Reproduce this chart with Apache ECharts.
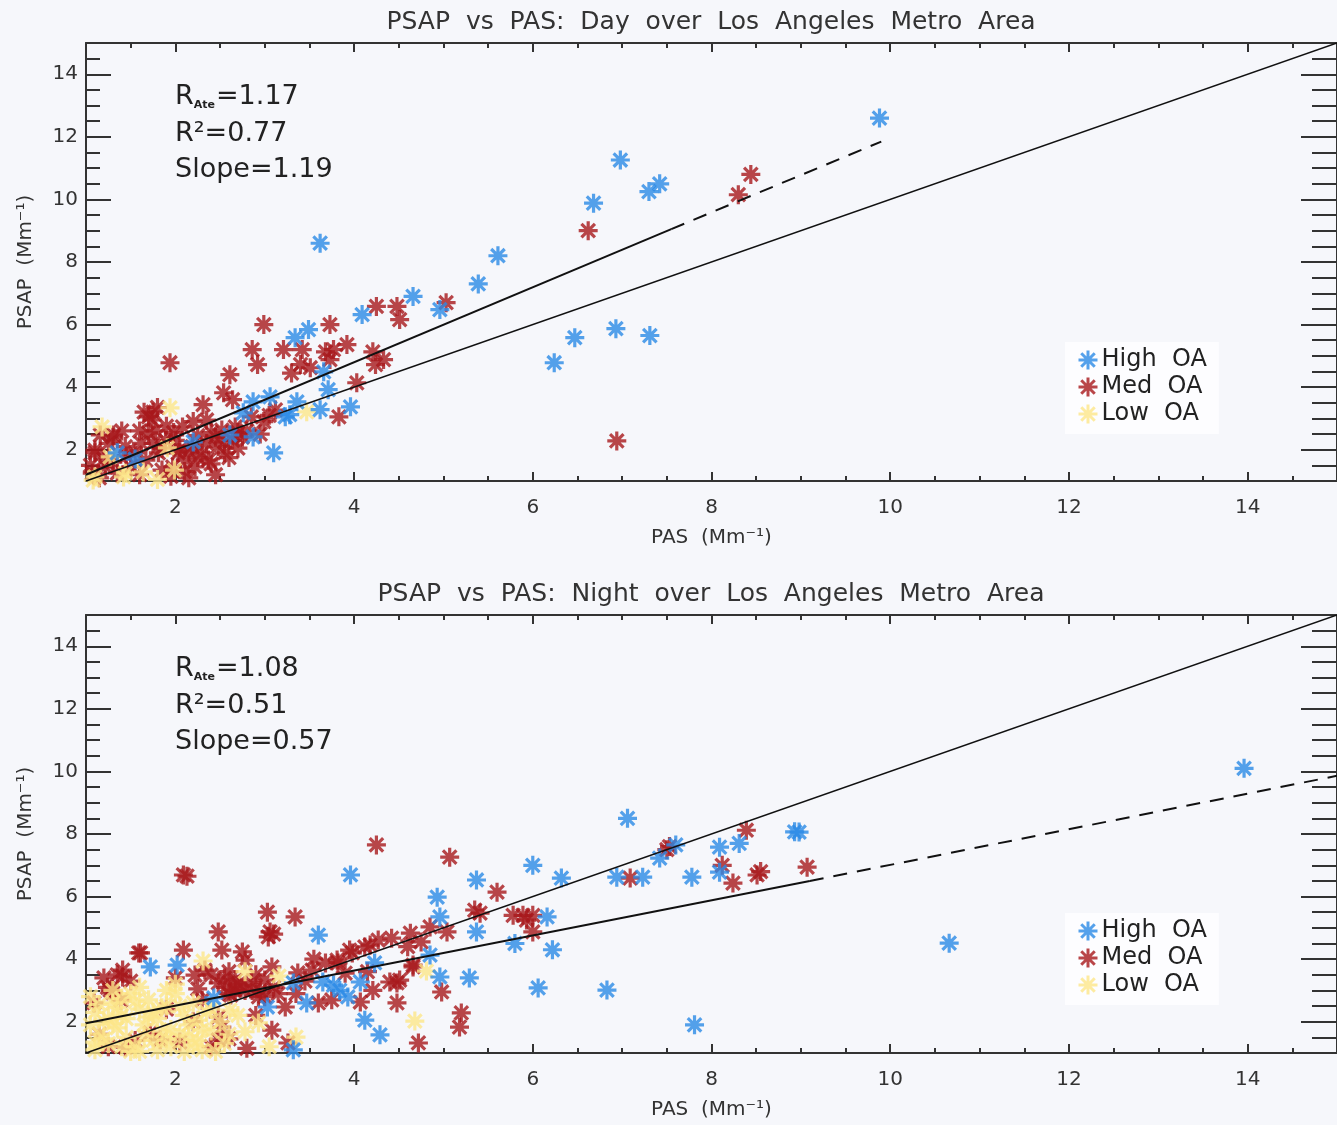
<!DOCTYPE html>
<html>
<head>
<meta charset="utf-8">
<title>PSAP vs PAS</title>
<script src="https://cdn.jsdelivr.net/npm/echarts@6.0.0/dist/echarts.min.js"></script>
<style>
  html, body { margin: 0; padding: 0; background: #f6f7fb; }
  #chart { width: 1337px; height: 1125px; }
</style>
</head>
<body>
<div id="chart"></div>
<script>
// tick labels
var majorTicks = [2, 4, 6, 8, 10, 12, 14];

// reference 1:1 line and fitted lines (end points)
var oneToOne = [[1, 1], [15, 15]];
var dayFitSolid = [[1, 1.2], [7.55, 9.05]];
var dayFitDashed = [[7.55, 9.05], [9.9, 11.85]];
var nightFitSolid = [[1, 1.95], [9.1, 6.5]];
var nightFitDashed = [[9.1, 6.5], [15, 9.86]];

// ---- Day: [PAS, PSAP]
var dayHigh = [[9.88,12.6],[6.98,11.26],[6.68,9.88],[7.3,10.25],[7.42,10.5],[3.62,8.6],[5.61,8.2],[5.39,7.3],
  [4.66,6.9],[4.09,6.32],[4.96,6.48],[3.49,5.84],[3.34,5.58],[6.24,4.78],[6.47,5.58],[6.93,5.87],[7.31,5.65],
  [3.66,4.49],[3.71,3.92],[3.96,3.37],[3.36,3.53],[3.06,3.69],[2.87,3.53],[2.76,3.18],[2.87,2.41],[3.1,1.9],
  [3.28,3.12],[3.62,3.28],[3.23,3.05],[2.61,2.47],[1.35,1.9],[2.2,2.25],[1.55,1.7]];

var dayMed = [[8.44,10.8],[8.3,10.15],[6.62,9.0],[6.94,2.28],[5.03,6.7],[4.51,6.16],[4.48,6.58],[4.25,6.58],
  [2.99,6.0],[3.73,6.0],[1.94,4.78],[2.86,5.2],[2.92,4.72],[2.61,4.4],[2.54,3.82],[2.64,3.6],[2.31,3.44],
  [3.21,5.2],[3.42,5.2],[3.4,4.72],[3.51,4.62],[3.68,5.13],[3.77,5.2],[3.92,5.36],[3.73,4.88],[4.21,5.13],
  [4.33,4.88],[4.24,4.72],[4.03,4.14],[3.83,3.05],[2.99,2.9],[3.12,3.27],[1.74,2.95],[1.7,2.54],[1.3,2.4],
  [1.1,1.9],[1.55,1.9],[2.08,2.73],[2.19,2.1],[2.37,1.67],[2.22,1.45],[2.03,1.9],[2.52,2.63],[2.67,2.73],
  [2.75,2.4],[2.45,2.4],[1.89,2.3],[1.44,2.1],[1.22,1.45],[1.07,1.25],[1.67,1.67],[1.81,1.9],[1.97,1.45],
  [2.11,1.67],[2.3,1.9],[2.48,2.1],[2.64,2.3],[1.7,3.05],[1.16,2.47],[1.31,2.47],[1.1,1.99],[3.3,4.45],
  [1.62,2.2],[1.78,2.6],[1.85,2.05],[2.0,2.3],[2.15,1.95],[2.35,2.2],[1.5,1.45],[1.35,1.25],[1.2,1.7],
  [2.25,1.75],[2.55,1.9],[1.95,1.15],[1.6,1.2],[2.85,3.05],[2.4,2.55],[2.7,2.55],[1.05,1.5],[1.75,3.2],
  [1.15,1.1],[1.3,1.6],[1.45,1.8],[1.6,2.6],[1.75,2.2],[1.9,2.75],[2.05,2.0],[2.1,1.3],[2.25,2.45],
  [2.4,1.55],[2.55,2.25],[2.6,1.75],[2.7,2.05],[2.8,2.6],[1.85,1.35],[1.65,3.2],[1.8,3.35],[2.2,2.9],
  [2.35,2.95],[1.4,2.6],[1.25,2.2],[2.95,2.5],[3.05,3.1],[2.15,1.1],[2.45,1.2],[1.98,2.55]];

var dayLow = [[1.18,2.73],[1.94,3.34],[1.27,1.77],[1.91,2.06],[1.44,1.25],[1.64,1.29],[1.99,1.35],
  [3.47,3.21],[1.1,1.13],[1.42,1.13],[1.08,1.03],[1.8,1.05]];

// ---- Night: [PAS, PSAP]
var nightHigh = [[13.96,10.1],[10.66,4.51],[12.08,3.65],[8.98,8.06],[7.06,8.5],[8.93,8.07],[8.31,7.7],
  [8.09,7.58],[7.6,7.65],[7.42,7.23],[8.09,6.78],[7.78,6.62],[7.23,6.62],[6.94,6.62],[6.32,6.59],[6.0,7.0],
  [5.37,6.53],[4.93,5.98],[4.96,5.35],[6.16,5.35],[5.37,4.87],[5.8,4.5],[6.22,4.3],[4.85,4.13],[6.06,3.08],
  [6.83,3.01],[7.81,1.9],[5.29,3.4],[4.96,3.43],[3.96,6.69],[3.6,4.77],[4.23,3.88],[3.84,3.0],[3.93,2.79],
  [3.77,3.17],[4.12,2.05],[4.29,1.58],[3.32,1.1],[3.65,3.27],[3.47,2.6],[2.43,2.76],[1.72,3.75],[2.02,3.81],
  [3.32,3.24],[4.07,3.27],[3.03,2.47]];

var nightMed = [[9.07,6.94],[8.39,8.12],[7.53,7.6],[7.5,7.5],[8.12,7.0],[8.51,6.69],[8.55,6.8],[8.24,6.43],
  [7.09,6.59],[5.07,7.26],[5.6,6.14],[5.35,5.57],[5.41,5.47],[5.78,5.4],[5.89,5.4],[6.0,5.4],[5.93,5.25],
  [6.0,4.87],[5.04,4.87],[4.63,4.83],[4.85,5.03],[4.98,2.95],[5.2,2.28],[5.18,1.83],[4.72,1.32],[4.66,3.81],
  [4.51,3.33],[4.42,4.67],[4.18,4.45],[3.95,4.29],[3.81,3.97],[4.66,3.75],[4.4,3.27],[4.48,3.24],[4.21,3.0],
  [4.07,2.63],[4.48,2.6],[4.25,7.65],[2.09,6.69],[2.13,6.65],[3.03,5.5],[3.34,5.35],[3.04,4.71],[3.06,4.87],
  [3.1,4.8],[2.48,4.87],[1.59,4.2],[2.09,4.29],[2.52,4.29],[2.75,4.23],[1.41,3.65],[1.41,3.43],[1.24,3.1],
  [1.3,2.92],[2.0,3.4],[2.22,3.49],[2.33,3.65],[2.67,3.33],[2.78,3.97],[2.48,3.24],[2.56,3.1],[2.67,3.0],
  [2.78,3.0],[2.86,3.0],[2.93,2.79],[3.0,3.33],[3.08,3.75],[2.3,2.69],[3.37,3.56],[3.53,3.65],[3.68,3.88],
  [3.82,3.88],[3.98,4.2],[4.12,4.39],[4.27,4.61],[3.6,2.6],[3.75,2.7],[3.23,2.47],[3.08,1.73],[3.26,1.32],
  [2.48,2.15],[2.52,1.83],[2.48,1.42],[1.27,3.01],[1.61,4.2],[1.09,2.6],[1.72,1.64],[1.83,1.42],[1.44,1.19],
  [1.39,2.69],[2.7,3.2],[2.6,2.9],[2.9,3.5],[3.0,2.8],[2.4,1.2],[3.9,3.55],[4.15,3.6],[3.55,4.0],[4.6,4.4],
  [4.75,4.55],[2.2,2.0],[1.9,2.4],[1.15,1.6],[2.8,1.15],[2.55,3.4],[2.62,2.85],[2.72,3.15],[2.85,3.25],
  [2.95,3.0],[3.1,3.1],[3.15,2.9],[2.6,3.6],[2.4,3.5],[2.25,3.05],[1.5,3.3],[1.35,3.5],[1.2,3.4],[1.55,1.4],
  [1.25,1.2],[2.05,1.35],[2.6,1.45],[2.9,2.2],[3.35,2.9],[3.45,3.3]];

var nightLow = [[4.81,3.62],[4.68,2.02],[2.31,3.94],[2.78,3.6],[3.16,3.46],[3.35,1.51],[2.78,1.68],[2.93,1.96],
  [2.61,2.37],[1.05,2.8],[1.1,2.3],[1.15,1.6],[1.2,2.0],[1.25,1.3],[1.3,2.6],[1.35,1.8],[1.4,2.2],[1.45,1.5],
  [1.5,2.9],[1.55,1.2],[1.6,2.4],[1.65,1.9],[1.7,2.7],[1.75,1.4],[1.8,2.1],[1.85,1.7],[1.9,2.5],[1.95,1.2],
  [2.0,2.9],[2.05,1.6],[2.1,2.2],[2.15,1.9],[2.2,2.6],[2.25,1.4],[2.3,1.1],[2.35,2.3],[2.4,1.7],[2.5,2.0],
  [2.55,1.3],[1.1,1.1],[1.3,3.0],[1.6,3.1],[2.0,3.2],[1.8,1.1],[1.05,1.9],[1.2,1.45],[1.4,2.75],[1.5,1.05],
  [1.75,2.3],[2.1,1.05],[1.9,3.0],[3.05,1.2],[1.15,2.55],[1.25,2.1],[1.35,2.45],[1.45,2.1],[1.55,2.65],
  [1.65,1.55],[1.7,2.15],[1.85,2.45],[1.95,1.75],[2.05,2.5],[2.15,1.55],[2.25,2.05],[2.3,1.75],[2.4,2.4],
  [1.1,1.35],[1.4,1.2],[1.6,1.05],[1.9,1.45],[2.2,1.25],[2.45,1.05],[1.3,1.95],[2.6,1.6],[2.7,2.2]];

var blue = '#2b8ae6', red = '#a8181b', yellow = '#fde68a';
var ink = '#333333';
var font = 'DejaVu Sans';
var star = 'path://M0,-10L0,10M-10,0L10,0M-7.1,-7.1L7.1,7.1M-7.1,7.1L7.1,-7.1';

var myChart = echarts.init(document.getElementById('chart'));

// two axes per side: one carries the line and the short ticks, the other the long ticks and labels
function axisPair(grid, pos, majorLen, minorLen, labels, name, nameGap) {
  var minor = {
    type: 'value', gridIndex: grid, position: pos, min: 1, max: 15, interval: 0.5,
    splitLine: { show: false },
    axisLine: { show: true, onZero: false, lineStyle: { color: ink, width: 2 } },
    axisTick: { inside: true, length: minorLen, lineStyle: { color: ink, width: 2 } },
    axisLabel: { show: false }
  };
  var major = {
    type: 'value', gridIndex: grid, position: pos, min: 1, max: 15,
    splitLine: { show: false },
    axisLine: { show: false, onZero: false },
    axisTick: { inside: true, length: majorLen, customValues: majorTicks, lineStyle: { color: ink, width: 2 } },
    axisLabel: {
      show: labels, customValues: majorTicks, color: ink, fontFamily: font, fontSize: 20,
      margin: (pos == 'bottom') ? 17 : 8
    }
  };
  if (name) {
    major.name = name;
    major.nameLocation = 'middle';
    major.nameGap = nameGap;
    major.nameTextStyle = { color: ink, fontFamily: font, fontSize: 20 };
  }
  return [minor, major];
}

var xAxes = [].concat(
  axisPair(0, 'bottom', 9, 5, true, 'PAS  (Mm\u207b\u00b9)', 47),
  axisPair(0, 'top', 9, 5, false),
  axisPair(1, 'bottom', 9, 5, true, 'PAS  (Mm\u207b\u00b9)', 47),
  axisPair(1, 'top', 9, 5, false)
);
var yAxes = [].concat(
  axisPair(0, 'left', 25, 14, true, 'PSAP  (Mm\u207b\u00b9)', 50),
  axisPair(0, 'right', 36, 25, false),
  axisPair(1, 'left', 25, 14, true, 'PSAP  (Mm\u207b\u00b9)', 50),
  axisPair(1, 'right', 36, 25, false)
);

function stars(name, data, color, ax) {
  return {
    type: 'scatter', name: name, data: data, xAxisIndex: ax, yAxisIndex: ax,
    symbol: star, symbolSize: 19,
    itemStyle: { color: color, borderColor: color, borderWidth: 3.2 },
    z: 2
  };
}
function line(data, dashed, width, ax) {
  return {
    type: 'line', data: data, xAxisIndex: ax, yAxisIndex: ax, symbol: 'none',
    lineStyle: { color: '#111', width: width, type: dashed ? [14, 10] : 'solid' },
    z: 3
  };
}

function legendAt(top) {
  return {
    orient: 'vertical', left: 1065, top: top, padding: [6, 12, 8, 12],
    backgroundColor: '#fdfdff', itemWidth: 19, itemHeight: 19, itemGap: 3,
    formatter: function (n) { return n.replace(' ', '  '); },
    textStyle: { color: '#222', fontFamily: font, fontSize: 24, lineHeight: 24, padding: [0, 0, 0, -1] },
    data: [
      { name: 'High OA', icon: star, itemStyle: { color: blue, borderColor: blue, borderWidth: 3 } },
      { name: 'Med OA', icon: star, itemStyle: { color: red, borderColor: red, borderWidth: 3 } },
      { name: 'Low OA', icon: star, itemStyle: { color: yellow, borderColor: yellow, borderWidth: 3 } }
    ]
  };
}

function textAt(x, y, txt, size) {
  return {
    type: 'text', x: x, y: y, silent: true,
    style: { text: txt, fill: ink, fontFamily: font, fontSize: size, align: 'center', verticalAlign: 'middle' }
  };
}
function statsAt(y, rate, r2, slope) {
  var big = { fontFamily: font, fontSize: 27, fill: '#222' };
  return [
    { type: 'text', x: 175, y: y, silent: true,
      style: { text: '{a|R}{s|Ate}{a|=' + rate + '}', verticalAlign: 'middle',
        rich: { a: big, s: { fontFamily: font, fontSize: 11, fontWeight: 'bold', fill: '#222', verticalAlign: 'bottom', padding: [0, 1, 0, 0] } } } },
    { type: 'text', x: 175, y: y + 37, silent: true,
      style: { text: 'R\u00b2=' + r2, fill: '#222', fontFamily: font, fontSize: 27, verticalAlign: 'middle' } },
    { type: 'text', x: 175, y: y + 73, silent: true,
      style: { text: 'Slope=' + slope, fill: '#222', fontFamily: font, fontSize: 27, verticalAlign: 'middle' } }
  ];
}

var option = {
  backgroundColor: '#f6f7fb',
  animation: false,
  grid: [
    { left: 86, right: 0, top: 43, height: 438 },
    { left: 86, right: 0, top: 615, height: 438 }
  ],
  xAxis: xAxes,
  yAxis: yAxes,
  legend: [legendAt(342), legendAt(913)],
  graphic: [
    textAt(711, 22, 'PSAP  vs  PAS:  Day  over  Los  Angeles  Metro  Area', 25),
    textAt(711, 594, 'PSAP  vs  PAS:  Night  over  Los  Angeles  Metro  Area', 25)
  ].concat(statsAt(97, '1.17', '0.77', '1.19'), statsAt(669, '1.08', '0.51', '0.57')),
  series: [
    stars('Med OA', dayMed, red, 1),
    stars('Low OA', dayLow, yellow, 1),
    stars('High OA', dayHigh, blue, 1),
    line(oneToOne, false, 1.5, 1),
    line(dayFitSolid, false, 2, 1),
    line(dayFitDashed, true, 2, 1),
    stars('Med OA', nightMed, red, 5),
    stars('Low OA', nightLow, yellow, 5),
    stars('High OA', nightHigh, blue, 5),
    line(oneToOne, false, 1.5, 5),
    line(nightFitSolid, false, 2, 5),
    line(nightFitDashed, true, 2, 5)
  ]
};

myChart.setOption(option, true);
</script>
</body>
</html>
